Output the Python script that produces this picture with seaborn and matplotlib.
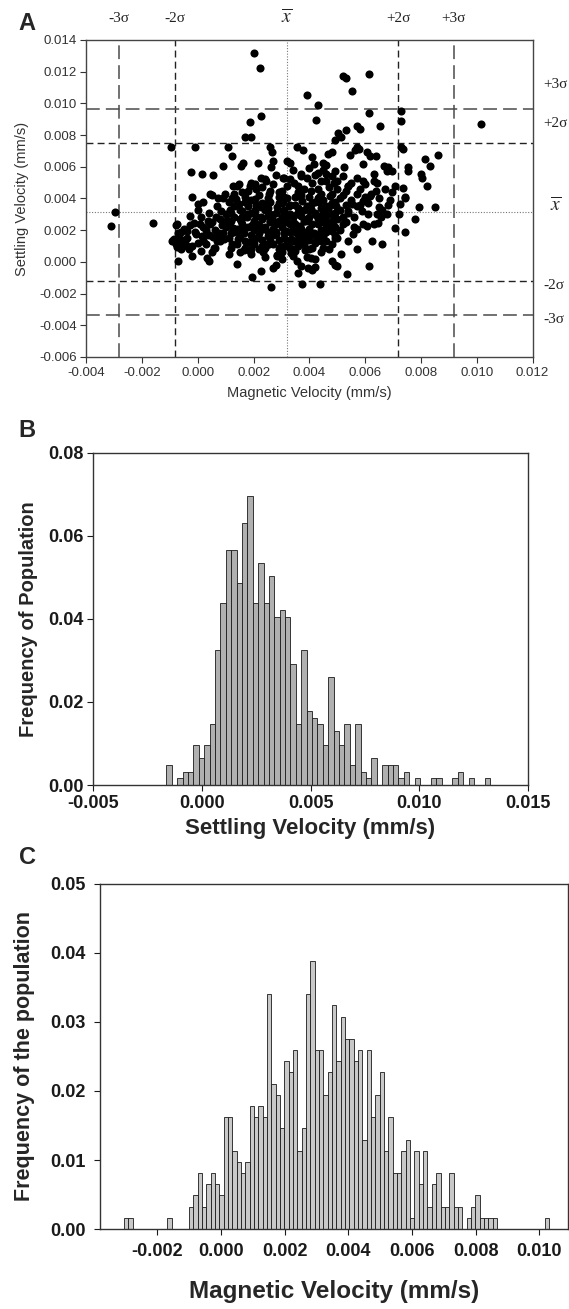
import matplotlib
matplotlib.use("Agg")
import numpy as np
import pandas as pd
import matplotlib.pyplot as plt
import seaborn as sns

# ---- Panel A: magnetic vs settling velocity of single cells (mm/s) ----
MAG_VEL = [
    0.00201, 0.00222, 0.00521, 0.0053, 0.00612, 0.00393, 0.00554, 0.00432, 0.00422, 0.00614,
    0.00729, 0.00729, 0.01015, 0.00228, 0.00186, 0.00168, 0.00192, 0.00571, 0.00581, 0.00652,
    0.00502, 0.00532, 0.00513, 0.00493, -0.00096, -0.0001, 0.00729, 0.00734, 0.00107, 0.00123,
    0.0009, 0.00259, 0.00265, 0.00268, 0.00262, 0.00357, 0.00378, 0.0057, 0.00578, 0.00605,
    0.00618, 0.00638, 0.00682, 0.00695, 0.00752, 0.00799, 0.00815, 0.00831, 0.00861, 0.00822,
    0.00805, -0.00025, 0.00014, 0.00054, 0.00162, 0.00154, 0.00214, 0.00318, 0.00331, 0.00409,
    0.00415, 0.00448, 0.00467, 0.0048, 0.00523, 0.00547, 0.00565, 0.00591, 0.0063, 0.00669,
    0.00679, 0.00755, 0.00227, 0.00246, 0.00205, 0.00305, 0.00344, 0.0037, 0.00441, 0.00461,
    0.00487, 0.00539, 0.00591, 0.00643, 0.00708, 0.00734, 0.00125, 0.00149, 0.00188, 0.00045,
    0.00071, 0.00097, 0.00123, 0.00744,
    -0.00313, -0.00296, -0.00161, -0.00072, -0.00092, -0.00076, -0.00059, -0.00033, -0.0002, 0.0,
    0.00033, 0.00039, 0.00033, 0.00142, 0.0011, 0.00194, 0.00227, 0.00263, 0.00279, 0.00285,
    0.00354, 0.00374, 0.0037, 0.00396, 0.00409, 0.00406, 0.00419, 0.00437, 0.0048, 0.00493,
    0.005, 0.00536, 0.00513, 0.00612, 0.00571, 0.00623, 0.00659, 0.00607, 0.00646, 0.00656,
    0.00679, 0.0065, 0.00643, 0.00708, 0.00742, 0.00725, 0.00744, 0.0078, 0.00793, 0.00851,
    0.00695, 0.00617, 0.00591, 0.00571, 0.00539, 0.00552, 0.00519, 0.0048, 0.00493, 0.00461,
    0.00448, 0.00422, 0.00409, 0.00461, 0.00487, 0.00435, 0.00435, 0.00396, 0.00383, 0.0037,
    0.00357, 0.00344, 0.00318, 0.00331, 0.00305, 0.00292, 0.00279, 0.00253, 0.00259, 0.00227,
    0.00214, 0.00201, 0.00188, 0.00175, 0.00149, 0.00136, 0.00123, 0.00097, 0.00084, 0.00071,
    0.00058, 0.00045, 0.00019, 0.00006, -0.00007, -0.0004, -0.00046, -0.00066, -0.00085, 0.00571,
    0.00591, 0.00539, 0.00558,
    0.0012, 0.0015, 0.0018, 0.0021, 0.0024, 0.0027, 0.0030, 0.0033, 0.0036, 0.0039,
    0.0042, 0.0045, 0.0048, 0.0051, 0.0010, 0.0013, 0.0016, 0.0019, 0.0022, 0.0025,
    0.0028, 0.0031, 0.0034, 0.0037, 0.0040, 0.0043, 0.0046, 0.0049, 0.0008, 0.0011,
    0.0014, 0.0017, 0.0020, 0.0023, 0.0026, 0.0029, 0.0032, 0.0035, 0.0038, 0.0041,
    0.0044, 0.0047, 0.0009, 0.0013, 0.0017, 0.0021, 0.0025, 0.0029, 0.0032, 0.0035,
    0.0038, 0.0041, 0.0044, 0.0047, 0.0050, 0.0053, 0.0024, 0.0028, 0.0031, 0.0034,
    0.0037, 0.0040, 0.0043, 0.0046, 0.0049, 0.0052, 0.0055, 0.0057, 0.0003, 0.0005,
    0.0002, 0.0006, 0.0004, 0.0007, 0.0001, -0.0003, -0.0006, -0.0004, 0.0054, 0.0056,
    0.0058, 0.0061, 0.0063, 0.0066, 0.0060, 0.0064, 0.0069, 0.0072, 0.0019, 0.0024,
    0.0030, 0.0034, 0.0039, 0.0044, 0.0027, 0.0036, 0.0042, 0.0016, 0.0023, 0.0026,
    0.0033, 0.0037, 0.0040, 0.0046, 0.0052, 0.0020, 0.0027, 0.0035, 0.0042, 0.0050,
    0.0012, 0.0030, 0.0045, 0.0014, 0.0019, 0.0026, 0.0031, 0.0036, 0.0043, 0.0048,
    0.0022, 0.0031, 0.0040, 0.0015, 0.0048,
]
SET_VEL = [
    0.0132, 0.01224, 0.01171, 0.01157, 0.01184, 0.01051, 0.01078, 0.00987, 0.00898, 0.00941,
    0.00949, 0.00888, 0.00871, 0.00917, 0.00881, 0.00786, 0.00786, 0.00854, 0.00839, 0.0086,
    0.00812, 0.00829, 0.0079, 0.00769, 0.00727, 0.00727, 0.00727, 0.00712, 0.00723, 0.00666,
    0.00602, 0.00723, 0.00691, 0.00638, 0.00596, 0.00723, 0.00708, 0.00727, 0.00712, 0.00695,
    0.00668, 0.00666, 0.00596, 0.00575, 0.006, 0.00553, 0.00649, 0.00602, 0.00674, 0.00477,
    0.00532, 0.00568, 0.00553, 0.00549, 0.00623, 0.00602, 0.00623, 0.00638, 0.00623, 0.0066,
    0.00617, 0.00623, 0.0068, 0.00691, 0.00596, 0.00674, 0.00706, 0.00617, 0.00553, 0.00602,
    0.00575, 0.00575, 0.00532, 0.00511, 0.0049, 0.00532, 0.00496, 0.00553, 0.00511, 0.00553,
    0.00496, 0.00479, 0.00511, 0.005, 0.00479, 0.00469, 0.00479, 0.0049, 0.00479, 0.00426,
    0.00405, 0.00426, 0.00405, 0.00405,
    0.00227, 0.00316, 0.00242, 0.00004, 0.00131, 0.00237, 0.0011, 0.00078, 0.00407, 0.00364,
    0.00025, 0.00004, 0.00174, -0.00013, 0.00047, -0.00097, -0.00055, -0.00161, -0.00021, 0.00036,
    0.00004, -0.0014, -0.00028, -0.00038, -0.00049, 0.00025, 0.00015, -0.0014, 0.00004, -0.00017,
    -0.00028, -0.00076, 0.00047, -0.00028, 0.00078, 0.00131, 0.0011, 0.00227, 0.00248, 0.0028,
    0.00305, 0.00343, 0.00301, 0.00216, 0.00189, 0.00364, 0.00407, 0.00269, 0.00343, 0.00343,
    0.00439, 0.00417, 0.00386, 0.00354, 0.00311, 0.00364, 0.00237, 0.00195, 0.00153, 0.00131,
    0.00089, 0.00131, 0.00174, 0.00322, 0.00364, 0.0028, 0.00407, 0.00343, 0.00258, 0.00195,
    0.00131, 0.00078, 0.001, 0.00237, 0.00322, 0.00407, 0.00174, 0.0011, 0.00258, 0.00343,
    0.00216, 0.00131, 0.00068, 0.0028, 0.00364, 0.00195, 0.0011, 0.00237, 0.00322, 0.00153,
    0.00089, 0.00237, 0.00131, 0.00237, 0.00174, 0.00195, 0.00131, 0.00153, 0.00142, 0.00206,
    0.00237, 0.00131, 0.00174,
    0.0031, 0.0027, 0.0035, 0.0029, 0.0033, 0.0026, 0.0037, 0.0030, 0.0034, 0.0027,
    0.0038, 0.0031, 0.0026, 0.0040, 0.0022, 0.0019, 0.0024, 0.0017, 0.0023, 0.0019,
    0.0024, 0.0018, 0.0022, 0.0016, 0.0021, 0.0024, 0.0019, 0.0022, 0.0013, 0.0015,
    0.0011, 0.0009, 0.0014, 0.0010, 0.0013, 0.0008, 0.0012, 0.0007, 0.0011, 0.0009,
    0.0013, 0.0008, 0.0040, 0.0043, 0.0041, 0.0046, 0.0040, 0.0044, 0.0048, 0.0041,
    0.0046, 0.0050, 0.0043, 0.0047, 0.0051, 0.0045, 0.0052, 0.0055, 0.0053, 0.0058,
    0.0054, 0.0059, 0.0056, 0.0061, 0.0057, 0.0054, 0.0050, 0.0043, 0.0020, 0.0025,
    0.0014, 0.0009, 0.0031, 0.0035, 0.0028, 0.0023, 0.0019, 0.0010, 0.0032, 0.0028,
    0.0036, 0.0030, 0.0024, 0.0033, 0.0041, 0.0045, 0.0039, 0.0030, 0.0005, 0.0003,
    0.0002, 0.0004, 0.0003, 0.0006, -0.0004, -0.0007, -0.0003, 0.0032, 0.0037, 0.0030,
    0.0036, 0.0029, 0.0033, 0.0035, 0.0028, 0.0020, 0.0017, 0.0019, 0.0017, 0.0015,
    0.0026, 0.0028, 0.0025, 0.0037, 0.0039, 0.0045, 0.0041, 0.0044, 0.0040, 0.0037,
    0.0008, 0.0010, 0.0014, 0.0006, 0.0011,
]
# dense core of the cloud (too packed to read one by one, estimated cell by cell)
CORE_MAG = [
    -0.0009, -0.0008, -0.0007, -0.0006, -0.0005, -0.0004, -0.0002, -0.0001, 0.0000, 0.0001,
    0.0002, 0.0003, 0.0004, 0.0005, 0.0006, 0.0007, 0.0008, 0.0009, -0.0003, 0.0000,
    0.0002, 0.0005, -0.0008, -0.0002,
    0.0010, 0.0011, 0.0012, 0.0013, 0.0014, 0.0015, 0.0016, 0.0017, 0.0018, 0.0018,
    0.0019, 0.0020, 0.0020, 0.0021, 0.0022, 0.0022, 0.0023, 0.0023, 0.0024, 0.0024,
    0.0025, 0.0025, 0.0026, 0.0026, 0.0027, 0.0027, 0.0028, 0.0028, 0.0029, 0.0029,
    0.0030, 0.0030, 0.0031, 0.0031, 0.0032, 0.0032, 0.0033, 0.0033, 0.0034, 0.0034,
    0.0035, 0.0035, 0.0036, 0.0036, 0.0037, 0.0037, 0.0038, 0.0038, 0.0039, 0.0039,
    0.0040, 0.0040, 0.0041, 0.0041, 0.0042, 0.0042, 0.0043, 0.0043, 0.0044, 0.0044,
    0.0045, 0.0045, 0.0046, 0.0046, 0.0047, 0.0047, 0.0048, 0.0048, 0.0049, 0.0049,
    0.0050, 0.0050, 0.0051, 0.0051, 0.0052, 0.0053, 0.0053, 0.0054, 0.0055, 0.0056,
    0.0057, 0.0058, 0.0059, 0.0060, 0.0061, 0.0062, 0.0063, 0.0065, 0.0067, 0.0068,
    0.0014, 0.0016, 0.0019, 0.0023, 0.0027, 0.0030, 0.0033, 0.0036, 0.0039, 0.0042,
    0.0045, 0.0048, 0.0011, 0.0013, 0.0015, 0.0017, 0.0012, 0.0016, 0.0019, 0.0021,
    0.0025, 0.0029, 0.0032, 0.0034, 0.0036, 0.0038, 0.0040, 0.0043, 0.0046, 0.0049,
    0.00105, 0.00125, 0.00145, 0.00155, 0.00165, 0.00175, 0.00185, 0.00195, 0.00205, 0.00215,
    0.00225, 0.00235, 0.00245, 0.00255, 0.00265, 0.00275, 0.00285, 0.00295, 0.00305, 0.00315,
    0.00325, 0.00335, 0.00345, 0.00355, 0.00365, 0.00375, 0.00385, 0.00395, 0.00405, 0.00415,
    0.00425, 0.00435, 0.00445, 0.00455, 0.00465, 0.00475, 0.00485, 0.00495, 0.00075, 0.00085,
    0.00095, 0.00065, 0.00055, 0.00035, 0.00015, -0.00015, -0.00055, -0.00075, 0.00115, 0.00135,
    0.00205, 0.00255, 0.00305, 0.00355, 0.00405, 0.00235, 0.00285, 0.00335, 0.00385, 0.00165,
]
CORE_SET = [
    0.0014, 0.0011, 0.0018, 0.0008, 0.0021, 0.0015, 0.0010, 0.0019, 0.0012, 0.0007,
    0.0022, 0.0011, 0.0017, 0.0006, 0.0020, 0.0013, 0.0027, 0.0018, 0.0029, 0.0033,
    0.0038, 0.0042, 0.0023, 0.0004,
    0.0030, 0.0024, 0.0009, 0.0035, 0.0021, 0.0016, 0.0028, 0.0013, 0.0022, 0.0045,
    0.0031, 0.0011, 0.0026, 0.0036, 0.0018, 0.0042, 0.0027, 0.0014, 0.0009, 0.0022,
    0.0034, 0.0016, 0.0025, 0.0038, 0.0021, 0.0011, 0.0031, 0.0019, 0.0014, 0.0026,
    0.0006, 0.0022, 0.0033, 0.0015, 0.0025, 0.0040, 0.0019, 0.0009, 0.0028, 0.0013,
    0.0036, 0.0024, 0.0017, 0.0031, 0.0021, 0.0042, 0.0026, 0.0014, 0.0035, 0.0019,
    0.0028, 0.0008, 0.0024, 0.0037, 0.0031, 0.0012, 0.0027, 0.0046, 0.0020, 0.0034,
    0.0039, 0.0016, 0.0029, 0.0051, 0.0035, 0.0023, 0.0043, 0.0030, 0.0017, 0.0038,
    0.0027, 0.0046, 0.0033, 0.0020, 0.0042, 0.0036, 0.0025, 0.0048, 0.0039, 0.0022,
    0.0053, 0.0046, 0.0032, 0.0049, 0.0037, 0.0043, 0.0051, 0.0040, 0.0046, 0.0036,
    0.0048, 0.0044, 0.0050, 0.0047, 0.0049, 0.0045, 0.0052, 0.0048, 0.0053, 0.0055,
    0.0058, 0.0054, 0.0038, 0.0028, 0.0033, 0.0038, 0.0018, 0.0020, 0.0008, 0.0024,
    0.0029, 0.0037, 0.0029, 0.0020, 0.0010, 0.0033, 0.0041, 0.0017, 0.0025, 0.0031,
    0.00265, 0.00215, 0.00145, 0.00255, 0.00185, 0.00305, 0.00125, 0.00235, 0.00325, 0.00155,
    0.00285, 0.00205, 0.00365, 0.00115, 0.00275, 0.00185, 0.00345, 0.00095, 0.00265, 0.00195,
    0.00355, 0.00145, 0.00245, 0.00305, 0.00225, 0.00385, 0.00165, 0.00255, 0.00335, 0.00185,
    0.00295, 0.00375, 0.00265, 0.00205, 0.00335, 0.00415, 0.00255, 0.00355, 0.00185, 0.00235,
    0.00145, 0.00285, 0.00155, 0.00255, 0.00165, 0.00245, 0.00135, 0.00095, 0.00325, 0.00395,
    0.00395, 0.00425, 0.00385, 0.00415, 0.00445, 0.00065, 0.00045, 0.00055, 0.00075, 0.00075,
]
MEAN_MAG, SD_MAG = 0.00318, 0.0020
MEAN_SET, SD_SET = 0.00316, 0.00217

# ---- Panel B: settling velocity histogram (cell counts per bin) ----
SET_BIN_START = -0.001624
SET_BIN_WIDTH = 0.000248
SET_COUNTS = [3, 0, 1, 2, 2, 6, 4, 6, 9, 20,
              27, 35, 35, 30, 39, 43, 27, 33, 27, 31,
              25, 26, 25, 18, 9, 20, 11, 10, 9, 6,
              16, 8, 6, 9, 3, 9, 2, 1, 4, 0,
              3, 3, 3, 1, 2, 0, 1, 0, 0, 1,
              1, 0, 0, 1, 2, 0, 1, 0, 0, 1]

# ---- Panel C: magnetic velocity histogram (cell counts per bin) ----
MAG_BIN_START = -0.003044
MAG_BIN_WIDTH = 0.0001362
MAG_COUNTS = [1, 1, 0, 0, 0, 0, 0, 0, 0, 0,
              1, 0, 0, 0, 0, 2, 3, 5, 2, 4,
              5, 4, 3,
              10, 10, 7, 6, 5, 6, 11, 10, 11, 10,
              21, 13, 12, 9, 15, 14, 16, 7, 9, 21,
              24, 16, 16, 12, 14, 20, 15, 19, 17, 17,
              15, 16, 8, 16, 10, 12, 14, 7, 10, 5,
              5, 7, 8, 1, 7, 4, 7, 2, 4, 5,
              2, 2, 5, 2, 2, 0, 1, 2, 3, 1,
              1, 1, 1, 0, 0, 0, 0, 0, 0, 0,
              0, 0, 0, 0, 1]
N_CELLS = 617

sns.set_theme(style="white")
plt.rcParams['font.family'] = ['Liberation Sans', 'DejaVu Sans']
plt.rcParams['axes.unicode_minus'] = False
plt.rcParams['mathtext.fontset'] = 'stix'

fig = plt.figure(figsize=(5.69, 13.09), dpi=100)
axA = fig.add_axes([0.1517, 0.7273, 0.7842, 0.2422])
axB = fig.add_axes([0.1634, 0.4003, 0.7646, 0.2537])
axC = fig.add_axes([0.1757, 0.0611, 0.8223, 0.2636])

# ---------------- Panel A ----------------
df_a = pd.DataFrame({'mag': MAG_VEL + CORE_MAG, 'set': SET_VEL + CORE_SET})
styles = {3: dict(color='#4a4a4a', lw=1.1, dashes=(9, 4)),
          2: dict(color='#222222', lw=1.0, dashes=(5, 3))}
for k in (-3, -2, 2, 3):
    st = styles[abs(k)]
    axA.axvline(MEAN_MAG + k * SD_MAG, color=st['color'], lw=st['lw'], dashes=st['dashes'], zorder=1)
    axA.axhline(MEAN_SET + k * SD_SET, color=st['color'], lw=st['lw'], dashes=st['dashes'], zorder=1)
axA.axvline(MEAN_MAG, color='#777777', lw=0.8, ls=(0, (1, 1.5)), zorder=1)
axA.axhline(MEAN_SET, color='#777777', lw=0.8, ls=(0, (1, 1.5)), zorder=1)

sns.scatterplot(data=df_a, x='mag', y='set', ax=axA, color='black', s=34,
                edgecolor='black', linewidth=0, zorder=3)

axA.set_xlim(-0.004, 0.012)
axA.set_ylim(-0.006, 0.014)
axA.set_xticks(np.arange(-0.004, 0.01201, 0.002))
axA.set_yticks(np.arange(-0.006, 0.01401, 0.002))
axA.xaxis.set_major_formatter(matplotlib.ticker.FormatStrFormatter('%.3f'))
axA.yaxis.set_major_formatter(matplotlib.ticker.FormatStrFormatter('%.3f'))
axA.tick_params(axis='both', which='major', bottom=True, left=True, direction='out',
                length=4, width=0.8, labelsize=9.5, colors='#333333', pad=3)
axA.set_xlabel('Magnetic Velocity (mm/s)', fontsize=10.5, color='#333333')
axA.set_ylabel('Settling Velocity (mm/s)', fontsize=10.5, color='#333333')
axA.xaxis.set_label_coords(0.5, -0.092)
axA.yaxis.set_label_coords(-0.128, 0.5)
for sp in axA.spines.values():
    sp.set_color('#444444')
    sp.set_linewidth(1.0)

top_tr = axA.get_xaxis_transform()
right_tr = axA.get_yaxis_transform()
sig_font = dict(family=['Liberation Serif', 'DejaVu Serif'], fontsize=11, color='#222222')
for k, lab in [(-3, '-3σ'), (-2, '-2σ'), (2, '+2σ'), (3, '+3σ')]:
    axA.text(MEAN_MAG + k * SD_MAG, 1.069, lab, transform=top_tr, ha='center', va='center', **sig_font)
axA.text(MEAN_MAG, 1.072, r'$\overline{x}$', transform=top_tr, ha='center', va='center',
         fontsize=14, color='#222222')
for k, lab, dy in [(3, '+3σ', 0.0015), (2, '+2σ', 0.0012), (-2, '-2σ', -0.0003), (-3, '-3σ', -0.0003)]:
    axA.text(1.0235, MEAN_SET + k * SD_SET + dy, lab, transform=right_tr, ha='left', va='center', **sig_font)
axA.text(1.04, MEAN_SET + 0.0004, r'$\overline{x}$', transform=right_tr, ha='left', va='center',
         fontsize=14, color='#222222')

# ---------------- Panel B ----------------
set_edges = SET_BIN_START + SET_BIN_WIDTH * np.arange(len(SET_COUNTS) + 1)
df_b = pd.DataFrame({'v': set_edges[:-1] + SET_BIN_WIDTH / 2,
                     'freq': np.array(SET_COUNTS) / N_CELLS})
sns.histplot(data=df_b, x='v', weights='freq', bins=list(set_edges), ax=axB,
             color='#b0b0b0', edgecolor='#1a1a1a', linewidth=0.6, alpha=1)
axB.set_xlim(-0.005, 0.015)
axB.set_ylim(0, 0.08)
axB.set_xticks([-0.005, 0.0, 0.005, 0.010, 0.015])
axB.set_yticks([0.0, 0.02, 0.04, 0.06, 0.08])
axB.xaxis.set_major_formatter(matplotlib.ticker.FormatStrFormatter('%.3f'))
axB.yaxis.set_major_formatter(matplotlib.ticker.FormatStrFormatter('%.2f'))
axB.tick_params(axis='both', which='major', bottom=True, left=True, direction='out',
                length=4, width=0.8, labelsize=13, colors='#1a1a1a', pad=3)
for lab in axB.get_xticklabels() + axB.get_yticklabels():
    lab.set_fontweight('bold')
axB.set_xlabel('Settling Velocity (mm/s)', fontsize=16, fontweight='bold')
axB.set_ylabel('Frequency of Population', fontsize=14.5, fontweight='bold')
axB.xaxis.set_label_coords(0.5, -0.099)
axB.yaxis.set_label_coords(-0.126, 0.5)
for sp in axB.spines.values():
    sp.set_color('#333333')
    sp.set_linewidth(1.0)

# ---------------- Panel C ----------------
mag_edges = MAG_BIN_START + MAG_BIN_WIDTH * np.arange(len(MAG_COUNTS) + 1)
df_c = pd.DataFrame({'v': mag_edges[:-1] + MAG_BIN_WIDTH / 2,
                     'freq': np.array(MAG_COUNTS) / N_CELLS})
sns.histplot(data=df_c, x='v', weights='freq', bins=list(mag_edges), ax=axC,
             color='#c8c8c8', edgecolor='#1a1a1a', linewidth=0.6, alpha=1)
axC.set_xlim(-0.0038, 0.0109)
axC.set_ylim(0, 0.05)
axC.set_xticks([-0.002, 0.0, 0.002, 0.004, 0.006, 0.008, 0.010])
axC.set_yticks([0.0, 0.01, 0.02, 0.03, 0.04, 0.05])
axC.xaxis.set_major_formatter(matplotlib.ticker.FormatStrFormatter('%.3f'))
axC.yaxis.set_major_formatter(matplotlib.ticker.FormatStrFormatter('%.2f'))
axC.tick_params(axis='both', which='major', bottom=True, left=True, direction='out',
                length=4, width=0.8, labelsize=13, colors='#1a1a1a', pad=6)
for lab in axC.get_xticklabels() + axC.get_yticklabels():
    lab.set_fontweight('bold')
axC.set_xlabel('Magnetic Velocity (mm/s)', fontsize=17.5, fontweight='bold')
axC.set_ylabel('Frequency of the population', fontsize=15.5, fontweight='bold')
axC.xaxis.set_label_coords(0.5, -0.148)
axC.yaxis.set_label_coords(-0.139, 0.5)
for sp in axC.spines.values():
    sp.set_color('#333333')
    sp.set_linewidth(1.0)

# panel letters
fig.text(27 / 569, 1 - 23 / 1309, 'A', fontsize=17, fontweight='bold', ha='center', va='center')
fig.text(27 / 569, 1 - 430 / 1309, 'B', fontsize=17, fontweight='bold', ha='center', va='center')
fig.text(27 / 569, 1 - 858 / 1309, 'C', fontsize=17, fontweight='bold', ha='center', va='center')

fig.savefig('out.png', dpi=100)
